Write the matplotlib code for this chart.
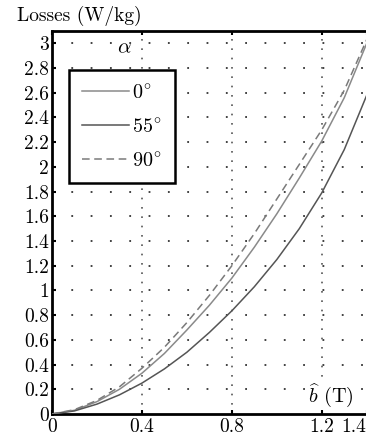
import matplotlib
matplotlib.use("Agg")
import matplotlib.pyplot as plt
import matplotlib.transforms as mtransforms
import numpy as np

plt.rcParams['font.family'] = ['cmr10', 'DejaVu Serif']
plt.rcParams['mathtext.fontset'] = 'cm'
plt.rcParams['axes.formatter.use_mathtext'] = True

b = [0, 0.1, 0.2, 0.3, 0.4, 0.5, 0.6, 0.7, 0.8, 0.9, 1.0, 1.1, 1.2, 1.3, 1.4]
loss_0 = [0, 0.03, 0.10, 0.20, 0.33, 0.49, 0.68, 0.88, 1.10, 1.35, 1.62, 1.91, 2.21, 2.56, 3.00]
loss_55 = [0, 0.025, 0.08, 0.155, 0.25, 0.365, 0.50, 0.66, 0.835, 1.03, 1.25, 1.50, 1.79, 2.14, 2.58]
loss_90 = [0, 0.035, 0.11, 0.22, 0.37, 0.54, 0.74, 0.96, 1.20, 1.46, 1.74, 2.02, 2.30, 2.62, 3.03]
labels = [r'$0^{\!\circ}$', r'$55^{\!\circ}$', r'$90^{\!\circ}$']
xticks = [0, 0.4, 0.8, 1.2, 1.4]
xticklabels = ['0', '0.4', '0.8', '1.2', '1.4']
yticks = [0, 0.2, 0.4, 0.6, 0.8, 1, 1.2, 1.4, 1.6, 1.8, 2, 2.2, 2.4, 2.6, 2.8, 3]
yticklabels = ['0', '0.2', '0.4', '0.6', '0.8', '1', '1.2', '1.4', '1.6', '1.8', '2',
               '2.2', '2.4', '2.6', '2.8', '3']

fig = plt.figure(figsize=(3.66, 4.42), dpi=100)
ax = fig.add_axes([52/366, 28/442, 1 - 52/366 + 0.002, 383/442])

# grid
for y in yticks[1:]:
    ax.axhline(y, color='#333333', lw=1.3, linestyle=(0, (1, 9.7)), zorder=1)
for x in [0.4, 0.8, 1.2]:
    ax.axvline(x, color='#555555', lw=1.2, linestyle=(0, (1, 4.6)), zorder=1)

ax.plot(b, loss_0, color='#8a8a8a', lw=1.1, label=labels[0], zorder=3)
ax.plot(b, loss_55, color='#555555', lw=1.1, label=labels[1], zorder=3)
ax.plot(b, loss_90, color='#7a7a7a', lw=1.1, linestyle=(0, (5, 3)), label=labels[2], zorder=3)

ax.set_xlim(0, 1.397)
ax.set_ylim(0, 3.10)
ax.set_xticks(xticks)
ax.set_xticklabels(xticklabels, fontsize=14)
ax.set_yticks(yticks)
ax.set_yticklabels(yticklabels, fontsize=14)
ax.tick_params(direction='in', length=3, width=1.5, top=True, right=False)
ax.tick_params(axis='x', pad=3)
ax.tick_params(axis='y', pad=2)

# shift the last x tick label left so it stays inside the picture
for lab in ax.get_xticklabels():
    if lab.get_text() == '1.4':
        lab.set_transform(lab.get_transform() + mtransforms.ScaledTranslation(-9/72, 0, fig.dpi_scale_trans))

for side in ['left', 'bottom', 'top']:
    ax.spines[side].set_linewidth(2.0)
    ax.spines[side].set_color('black')
ax.spines['right'].set_visible(False)

fig.text(17/366, 1 - 16/442, 'Losses (W/kg)', fontsize=14, va='center', ha='left')
ax.text(0.32, 2.96, r'$\alpha$', fontsize=15, ha='center', va='center')
ax.text(1.24, 0.15, r'$\widehat{b}$ (T)', fontsize=14.5, ha='center', va='center',
        bbox=dict(facecolor='white', edgecolor='none', pad=0.5))

leg = ax.legend(loc='upper left', bbox_to_anchor=(0.054, 0.898), fontsize=14.5,
                handlelength=2.35, handletextpad=0.15, labelspacing=0.75,
                borderpad=0.65, borderaxespad=0, fancybox=False, framealpha=1,
                edgecolor='black')
leg.get_frame().set_linewidth(1.8)

fig.savefig('out.png', dpi=100)
